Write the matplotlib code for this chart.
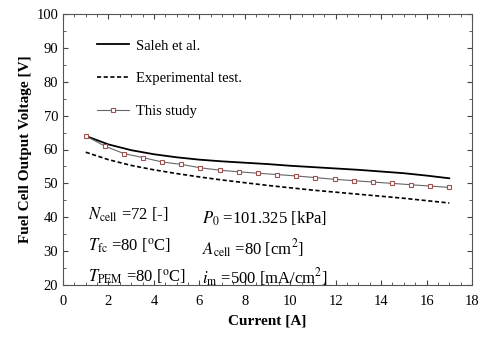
import matplotlib
matplotlib.use("Agg")
import matplotlib.pyplot as plt
from matplotlib.ticker import MultipleLocator

plt.rcParams["font.family"] = ["Liberation Serif", "DejaVu Serif"]
plt.rcParams["mathtext.fontset"] = "stix"

# ---- dane ----
current_saleh = [1, 2, 3, 4, 5, 6, 7, 8, 9, 10, 11, 12, 13, 14, 15, 16, 17]
volt_saleh = [64.0, 61.5, 59.8, 58.6, 57.7, 57.0, 56.5, 56.1, 55.7, 55.2,
              54.8, 54.4, 54.0, 53.5, 53.0, 52.3, 51.5]

current_exp = [1, 2, 3, 4, 5, 6, 7, 8, 9, 10, 11, 12, 13, 14, 15, 16, 17]
volt_exp = [59.2, 57.0, 55.3, 54.0, 52.9, 51.9, 51.0, 50.2, 49.4, 48.7,
            48.0, 47.4, 46.8, 46.2, 45.6, 44.9, 44.2]

current_study = [1.0, 1.84, 2.68, 3.53, 4.37, 5.21, 6.05, 6.89, 7.74, 8.58,
                 9.42, 10.26, 11.11, 11.95, 12.79, 13.63, 14.47, 15.32, 16.16, 17.0]
volt_study = [64.0, 61.0, 58.8, 57.6, 56.3, 55.6, 54.6, 53.9, 53.4, 53.0,
              52.6, 52.2, 51.7, 51.2, 50.8, 50.4, 50.0, 49.6, 49.2, 48.8]

params_left = [r"$N_{\rm cell}$ =72 [-]",
               r"$T_{\rm fc}$ =80 [$^{\rm o}$C]",
               r"$T_{\rm PEM}$ =80 [$^{\rm o}$C]"]
params_right = [r"$P_0$ =101.325 [kPa]",
                r"$A_{\rm cell}$ =80 [cm$^2$]",
                r"$i_{\rm m}$ =500 [mA/cm$^2$]"]

# ---- wykres ----
fig = plt.figure(figsize=(4.82, 3.38), dpi=100)
ax = fig.add_axes([63 / 482, 53 / 338, 409 / 482, 271 / 338])

ax.plot(current_saleh, volt_saleh, color="black", lw=1.3, label="Saleh et al.")
ax.plot(current_exp, volt_exp, color="black", lw=1.2, ls=(0, (2.5, 1.5)),
        label="Experimental test.")
ax.plot(current_study, volt_study, color="#666666", lw=0.8, marker="s",
        ms=3.5, mfc="white", mec="#a05050", mew=0.8, label="This study")

ax.set_xlim(0, 18)
ax.set_ylim(20, 100)
ax.xaxis.set_major_locator(MultipleLocator(2))
ax.xaxis.set_minor_locator(MultipleLocator(0.5))
ax.yaxis.set_major_locator(MultipleLocator(10))
ax.yaxis.set_minor_locator(MultipleLocator(5))
ax.tick_params(which="both", direction="in", top=True, right=True,
               labelsize=10.5, color="#444444")
ax.tick_params(which="major", length=3.5)
ax.tick_params(which="minor", length=2)
ax.tick_params(axis="x", pad=7)
for s in ax.spines.values():
    s.set_color("#555555")
    s.set_linewidth(0.8)

ax.set_xlabel("Current [A]", fontsize=11, fontweight="bold", labelpad=5)
ax.set_ylabel("Fuel Cell Output Voltage [V]", fontsize=11, fontweight="bold",
              labelpad=3)

ax.legend(loc="upper left", bbox_to_anchor=(0.05, 0.955), frameon=False,
          fontsize=10.5, handlelength=2.2, labelspacing=1.35, handletextpad=0.5)

for i, t in enumerate(params_left):
    ax.text(1.1, 40.6 - i * 9.2, t, fontsize=12, va="center")
for i, t in enumerate(params_right):
    ax.text(6.1, 39.4 - i * 8.6, t, fontsize=12, va="center")

fig.savefig("out.png", dpi=100)
